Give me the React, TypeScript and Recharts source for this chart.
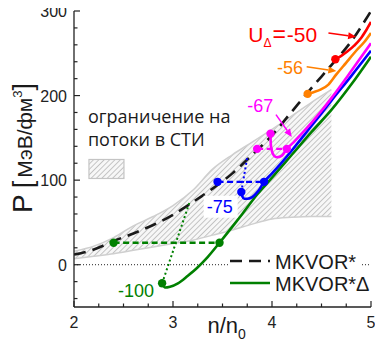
import React from "react";
import {
  ComposedChart,
  Area,
  Line,
  Scatter,
  XAxis,
  YAxis,
  ReferenceLine,
  ReferenceDot,
  Legend,
} from "recharts";

const FONT = '"Liberation Sans", Arial, sans-serif';

const RED = "#ff0000";
const ORANGE = "#ff8000";
const MAGENTA = "#ff00ff";
const BLUE = "#0000ff";
const GREEN = "#008000";

// flow-constraint band (hatched)
const bandN = [2.0, 2.2, 2.4, 2.6, 2.8, 3.0, 3.2, 3.4, 3.6, 3.8, 4.0, 4.2, 4.4, 4.6];
const bandLow = [7, 10, 13, 17, 21, 25, 29, 35, 41, 48, 54, 56, 57, 57];
const bandHigh = [16, 22, 32, 46, 57, 70, 88, 113, 130, 145, 160, 176, 192, 207];

// MKVOR*
const mkvorN = [2.0, 2.2, 2.4, 2.6, 2.8, 3.0, 3.2, 3.4, 3.6, 3.8, 4.0, 4.2, 4.4, 4.6, 4.8, 5.0];
const mkvorP = [12, 18, 28, 37, 47, 59, 74, 90, 108, 130, 153, 181, 209, 236, 264, 300];

// MKVOR*Delta curves for U_Delta = -100, -75, -67, -56, -50
const g100N = [2.89, 2.92, 2.97, 3.05, 3.15, 3.25, 3.35, 3.47, 3.6, 3.7, 3.85, 4.0, 4.2, 4.4, 4.6, 4.8, 5.0];
const g100P = [-22, -27, -26, -22, -13, -3, 9, 26, 45, 60, 83, 103, 130, 157, 183, 213, 246];
const b75N = [3.69, 3.7, 3.72, 3.75, 3.8, 3.86, 3.92, 4.0, 4.1, 4.2, 4.35, 4.5, 4.6, 4.8, 5.0];
const b75P = [86, 81, 78, 78, 80, 87, 98, 108, 121, 135, 157, 179, 194, 223, 253];
const m67N = [3.985, 3.986, 3.99, 4.0, 4.02, 4.05, 4.1, 4.15, 4.22, 4.3, 4.4, 4.5, 4.6, 4.8, 5.0];
const m67P = [155, 148, 140, 134, 129, 127, 129, 137, 145, 155, 168, 182, 197, 229, 262];
const o56N = [4.36, 4.42, 4.49, 4.57, 4.65, 4.75, 4.85, 4.93, 5.0];
const o56P = [202, 204, 207, 213, 225, 239, 253, 263, 274];
const r50N = [4.64, 4.7, 4.76, 4.83, 4.9, 4.95, 5.0];
const r50P = [243, 247, 252, 259, 268, 277, 287];

// Maxwell constructions: [n1, n2, P]
const greenMaxwell = [2.4, 3.47, 26];
const blueMaxwell = [3.45, 3.92, 98];
const magentaMaxwell = [3.85, 4.15, 137];

// dotted lines
const greenDottedN = [2.89, 3.165];
const greenDottedP = [-22, 73];
const blueDottedN = [3.69, 3.75];
const blueDottedP = [86, 127];

// marker points
const greenDotsN = [2.4, 3.47, 2.89];
const greenDotsP = [26, 26, -22];
const blueDotsN = [3.45, 3.92, 3.69];
const blueDotsP = [98, 98, 86];
const magentaDotsN = [3.85, 4.15, 3.985];
const magentaDotsP = [137, 137, 155];
const orangeDotsN = [4.36];
const orangeDotsP = [202];
const redDotsN = [4.64];
const redDotsP = [243];

const xTicks = [2, 2.25, 2.5, 2.75, 3, 3.25, 3.5, 3.75, 4, 4.25, 4.5, 4.75, 5];
const yTicks = [-40, -20, 0, 20, 40, 60, 80, 100, 120, 140, 160, 180, 200, 220, 240, 260, 280, 300];

const pts = (ns: number[], ps: number[]) => ns.map((n, i) => ({ n, p: ps[i] }));
const band = bandN.map((n, i) => ({ n, range: [bandLow[i], bandHigh[i]] }));
const maxwell = (m: number[]) => [{ n: m[0], p: m[2] }, { n: m[1], p: m[2] }];

const curveLabels = [
  { text: "-56", n: 4.05, p: 225, color: ORANGE, bg: false },
  { text: "-67", n: 3.75, p: 180, color: MAGENTA, bg: false },
  { text: "-75", n: 3.34, p: 61.5, color: BLUE, bg: true },
  { text: "-100", n: 2.444, p: -38, color: GREEN, bg: false },
];

const arrows = [
  { from: [4.57, 274], to: [4.85, 269.5], color: RED },
  { from: [4.35, 234], to: [4.65, 229], color: ORANGE },
  { from: [4.04, 177.5], to: [4.2, 151], color: MAGENTA },
];

const legendItems = [
  { label: "MKVOR*", color: "#1a1a1a", dash: "12 7" },
  { label: "MKVOR*\u0394", color: GREEN, dash: undefined },
];

const isMajor = (v: number) => Math.abs(v - Math.round(v)) < 1e-6;

const makeXTick = (side: "bottom" | "top") => (props: any) => {
  const { x, y, payload } = props;
  const v = payload.value;
  const major = isMajor(v);
  const len = major ? 6 : 3.5;
  const d = side === "bottom" ? -1 : 1;
  return (
    <g>
      <line x1={x} x2={x} y1={y} y2={y + d * len} stroke="#222" strokeWidth={1.2} />
      {side === "bottom" && major && (
        <text x={x} y={y + 21} textAnchor="middle" fontSize={16} fontFamily={FONT} fill="#222">
          {v}
        </text>
      )}
    </g>
  );
};

const makeYTick = (side: "left" | "right") => (props: any) => {
  const { x, y, payload } = props;
  const v = payload.value;
  const major = v % 100 === 0;
  const len = major ? 6 : 3.5;
  const d = side === "left" ? 1 : -1;
  return (
    <g>
      <line x1={x} x2={x + d * len} y1={y} y2={y} stroke="#222" strokeWidth={1.2} />
      {side === "left" && major && (
        <text x={x - 7} y={y + 6} textAnchor="end" fontSize={16} fontFamily={FONT} fill="#222">
          {v}
        </text>
      )}
    </g>
  );
};

const arrowShape = (color: string) => (p: any) => {
  const { x1, y1, x2, y2 } = p;
  const dx = x2 - x1;
  const dy = y2 - y1;
  const L = Math.hypot(dx, dy) || 1;
  const ux = dx / L;
  const uy = dy / L;
  const hl = 8;
  const hw = 3.5;
  const bx = x2 - ux * hl;
  const by = y2 - uy * hl;
  return (
    <g>
      <line x1={x1} y1={y1} x2={bx} y2={by} stroke={color} strokeWidth={1.5} />
      <polygon
        points={`${x2},${y2} ${bx - uy * hw},${by + ux * hw} ${bx + uy * hw},${by - ux * hw}`}
        fill={color}
      />
    </g>
  );
};

const dotShape = (color: string) => (p: any) => <circle cx={p.cx} cy={p.cy} r={4.2} fill={color} />;

const textShape = (lab: (typeof curveLabels)[number]) => (p: any) => (
  <g>
    {lab.bg && <rect x={p.cx - 3} y={p.cy - 17} width={34} height={22} fill="#fff" />}
    <text x={p.cx} y={p.cy} fontSize={18} fontFamily={FONT} fill={lab.color}>
      {lab.text}
    </text>
  </g>
);

const uLabelShape = (p: any) => (
  <text x={p.cx} y={p.cy} fontSize={21} fontFamily={FONT} fill={RED}>
    <tspan>U</tspan>
    <tspan fontSize={12} dy={5}>{"\u0394"}</tspan>
    <tspan dy={-5} dx={1} fontSize={23}>=</tspan>
    <tspan dx={1}>-50</tspan>
  </text>
);

const bandLegendShape = (p: any) => (
  <g fontFamily={'"Open Sans", sans-serif'} fontSize={18} fill="#1a1a1a">
    <text x={p.cx} y={p.cy}>ограничение на</text>
    <text x={p.cx} y={p.cy + 23}>потоки в СТИ</text>
    <rect x={p.cx + 1} y={p.cy + 36} width={35} height={19} fill="url(#hatch)" stroke="#c4c4c4" strokeWidth={1.2} />
  </g>
);

const xLabel = (props: any) => {
  const vb = props.viewBox;
  const x = vb.x + vb.width / 2 - 15;
  const y = vb.y + 26;
  return (
    <text x={x} y={y} fontFamily={FONT} fill="#1a1a1a">
      <tspan fontSize={22}>n/n</tspan>
      <tspan fontSize={14} dy={6}>0</tspan>
    </text>
  );
};

const yLabel = (props: any) => {
  const vb = props.viewBox;
  const cy = vb.y + vb.height / 2 - 11;
  return (
    <text transform={`translate(32,${cy}) rotate(-90)`} textAnchor="middle" fontFamily={FONT} fill="#1a1a1a">
      <tspan fontSize={28}>P</tspan>
      <tspan fontSize={27} dx={6}>[</tspan>
      <tspan fontSize={21} dx={3}>МэВ/фм</tspan>
      <tspan fontSize={13} dy={-10}>3</tspan>
      <tspan fontSize={27} dy={10}>]</tspan>
    </text>
  );
};

const renderLegend = () => (
  <svg width={150} height={46} style={{ display: "block", overflow: "visible" }}>
    <rect x={0} y={0} width={134} height={46} fill="#fff" />
    {legendItems.map((it, i) => {
      const cy = 11 + i * 22;
      return (
        <g key={it.label}>
          <line x1={2} x2={42} y1={cy} y2={cy} stroke={it.color} strokeWidth={2.6} strokeDasharray={it.dash} />
          <text x={47} y={cy + 7.5} fontSize={20} fontFamily={FONT} fill="#1a1a1a">
            {it.label}
          </text>
        </g>
      );
    })}
  </svg>
);

export default function App() {
  return (
    <div style={{ margin: "-8px 0 0 -8px", width: 383, height: 352 }}>
      <ComposedChart width={383} height={352} margin={{ top: 11, right: 12, bottom: 0, left: 0 }}>
        <defs>
          <pattern id="hatch" width={3.8} height={3.8} patternUnits="userSpaceOnUse" patternTransform="rotate(45)">
            <rect width={3.8} height={3.8} fill="#f7f7f7" />
            <line x1={0} y1={0} x2={0} y2={3.8} stroke="#9c9c9c" strokeWidth={1.1} />
          </pattern>
        </defs>
        <XAxis
          dataKey="n"
          type="number"
          domain={[2, 5]}
          ticks={xTicks}
          interval={0}
          height={45}
          allowDataOverflow
          tickSize={0}
          tickMargin={0}
          tickLine={false}
          axisLine={{ stroke: "#222", strokeWidth: 1.3 }}
          tick={makeXTick("bottom")}
          label={{ content: xLabel }}
        />
        <XAxis
          xAxisId="top"
          orientation="top"
          dataKey="n"
          type="number"
          domain={[2, 5]}
          ticks={xTicks}
          interval={0}
          height={0}
          allowDataOverflow
          tickSize={0}
          tickMargin={0}
          tickLine={false}
          axisLine={{ stroke: "#222", strokeWidth: 1.3 }}
          tick={makeXTick("top")}
        />
        <YAxis
          type="number"
          domain={[-50, 300]}
          ticks={yTicks}
          interval={0}
          width={74}
          allowDataOverflow
          tickSize={0}
          tickMargin={0}
          tickLine={false}
          axisLine={{ stroke: "#222", strokeWidth: 1.3 }}
          tick={makeYTick("left")}
          label={{ content: yLabel }}
        />
        <YAxis
          yAxisId="right"
          orientation="right"
          type="number"
          domain={[-50, 300]}
          ticks={yTicks}
          interval={0}
          width={0}
          allowDataOverflow
          tickSize={0}
          tickMargin={0}
          tickLine={false}
          axisLine={{ stroke: "#222", strokeWidth: 1.3 }}
          tick={makeYTick("right")}
        />

        <Area
          data={band}
          dataKey="range"
          type="monotone"
          fill="url(#hatch)"
          fillOpacity={1}
          stroke="#cfcfcf"
          strokeWidth={1.5}
          isAnimationActive={false}
        />
        <ReferenceLine y={0} stroke="#222" strokeWidth={1} strokeDasharray="1 2" />

        <Line data={pts(mkvorN, mkvorP)} dataKey="p" type="monotone" stroke="#1a1a1a" strokeWidth={2.6} strokeDasharray="12 7" dot={false} isAnimationActive={false} />

        <Line data={pts(greenDottedN, greenDottedP)} dataKey="p" type="linear" stroke={GREEN} strokeWidth={2} strokeDasharray="2 2.6" dot={false} isAnimationActive={false} />
        <Line data={pts(blueDottedN, blueDottedP)} dataKey="p" type="linear" stroke={BLUE} strokeWidth={2} strokeDasharray="2 2.6" dot={false} isAnimationActive={false} />

        <Line data={maxwell(greenMaxwell)} dataKey="p" type="linear" stroke={GREEN} strokeWidth={2.4} strokeDasharray="6 3.5" dot={false} isAnimationActive={false} />
        <Line data={maxwell(blueMaxwell)} dataKey="p" type="linear" stroke={BLUE} strokeWidth={2.4} strokeDasharray="6 3.5" dot={false} isAnimationActive={false} />
        <Line data={maxwell(magentaMaxwell)} dataKey="p" type="linear" stroke={MAGENTA} strokeWidth={2.4} strokeDasharray="6 3.5" dot={false} isAnimationActive={false} />

        <Line data={pts(g100N, g100P)} dataKey="p" type="monotone" stroke={GREEN} strokeWidth={2.6} dot={false} isAnimationActive={false} />
        <Line data={pts(b75N, b75P)} dataKey="p" type="monotone" stroke={BLUE} strokeWidth={2.6} dot={false} isAnimationActive={false} />
        <Line data={pts(m67N, m67P)} dataKey="p" type="monotone" stroke={MAGENTA} strokeWidth={2.6} dot={false} isAnimationActive={false} />
        <Line data={pts(o56N, o56P)} dataKey="p" type="monotone" stroke={ORANGE} strokeWidth={2.6} dot={false} isAnimationActive={false} />
        <Line data={pts(r50N, r50P)} dataKey="p" type="monotone" stroke={RED} strokeWidth={2.6} dot={false} isAnimationActive={false} />

        <Scatter data={pts(greenDotsN, greenDotsP)} dataKey="p" shape={dotShape(GREEN)} isAnimationActive={false} />
        <Scatter data={pts(blueDotsN, blueDotsP)} dataKey="p" shape={dotShape(BLUE)} isAnimationActive={false} />
        <Scatter data={pts(magentaDotsN, magentaDotsP)} dataKey="p" shape={dotShape(MAGENTA)} isAnimationActive={false} />
        <Scatter data={pts(orangeDotsN, orangeDotsP)} dataKey="p" shape={dotShape(ORANGE)} isAnimationActive={false} />
        <Scatter data={pts(redDotsN, redDotsP)} dataKey="p" shape={dotShape(RED)} isAnimationActive={false} />

        {arrows.map((a, i) => (
          <ReferenceLine
            key={`arrow-${i}`}
            segment={[
              { x: a.from[0], y: a.from[1] },
              { x: a.to[0], y: a.to[1] },
            ]}
            shape={arrowShape(a.color)}
          />
        ))}

        {curveLabels.map((lab) => (
          <ReferenceDot key={lab.text} x={lab.n} y={lab.p} r={0} shape={textShape(lab)} />
        ))}
        <ReferenceDot x={3.76} y={263} r={0} shape={uLabelShape} />
        <ReferenceDot x={2.141} y={167} r={0} shape={bandLegendShape} />

        <Legend
          layout="vertical"
          align="center"
          verticalAlign="middle"
          wrapperStyle={{ left: 228, top: 250, width: 150, height: 46 }}
          content={renderLegend}
        />
      </ComposedChart>
    </div>
  );
}
